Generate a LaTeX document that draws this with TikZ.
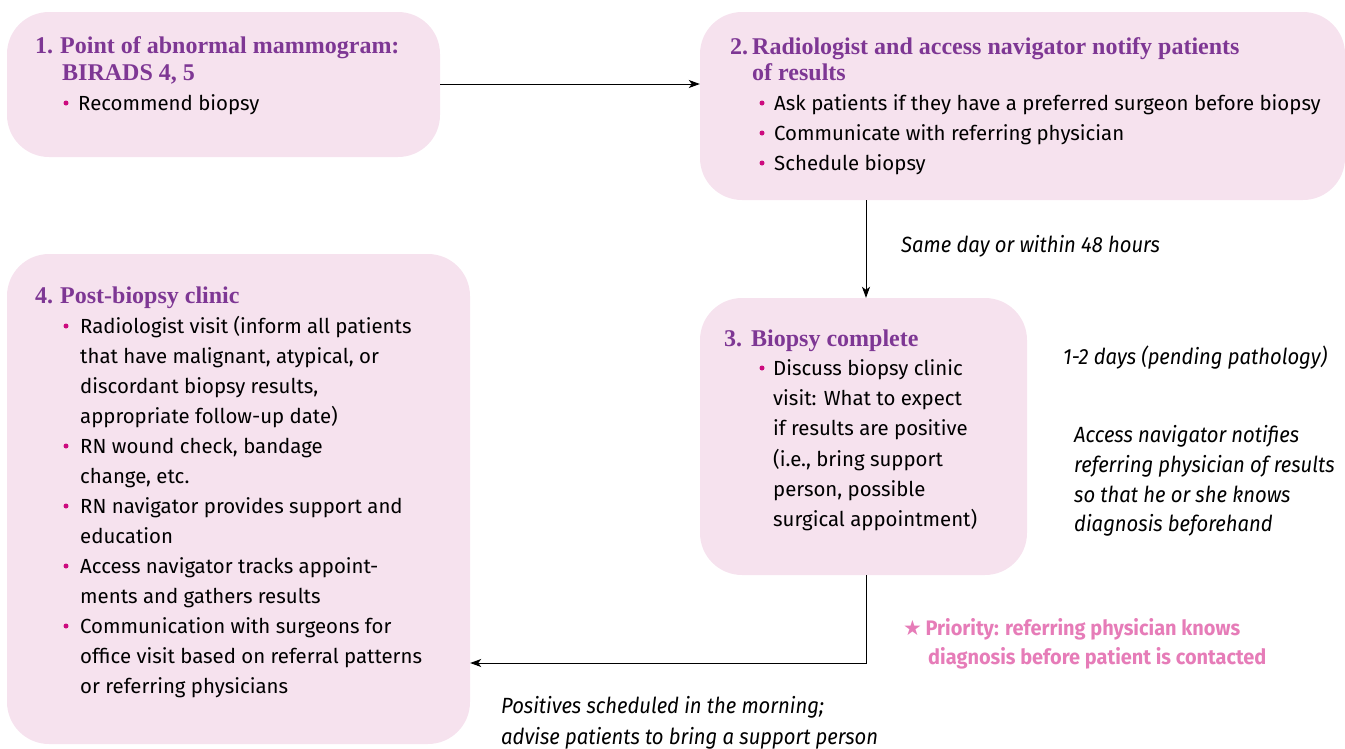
\documentclass[tikz,border=0pt]{standalone}
\usepackage{fontspec}
\setmainfont{Fira Sans}
\newfontfamily\bodyfont{Fira Sans}
\newfontfamily\notefamily{Fira Sans}[FakeStretch=0.92]
\newfontfamily\priofamily{Fira Sans}[FakeStretch=0.95]
\newfontfamily\titlefamily{Liberation Serif}
\newfontfamily\starfamily{DejaVu Sans}
\usetikzlibrary{arrows.meta}
\definecolor{boxpink}{HTML}{F6E2EE}
\definecolor{titlepurple}{HTML}{7E3794}
\definecolor{bulletpink}{HTML}{CC0A7E}
\definecolor{priopink}{HTML}{E67CB8}
\begin{document}
\begin{tikzpicture}[x=1pt,y=-1pt,
  box/.style={fill=boxpink, draw=none, rounded corners=42pt, inner sep=0},
  ttl/.style={anchor=base west, inner sep=0, text=titlepurple, font=\titlefamily\bfseries\fontsize{24}{30}\selectfont},
  txt/.style={anchor=base west, inner sep=0, font=\bodyfont\fontsize{20.4}{30}\selectfont},
  note/.style={anchor=base west, inner sep=0, font=\notefamily\itshape\fontsize{22}{30}\selectfont},
  prio/.style={anchor=base west, inner sep=0, text=priopink, font=\priofamily\bfseries\fontsize{21}{30}\selectfont},
  dot/.style={circle, fill=bulletpink, inner sep=0, minimum size=5pt},
  arr/.style={draw=black, line width=0.8pt, -{Stealth[length=11pt,width=8pt,inset=3pt]}}
]
\useasboundingbox (0,0) rectangle (1345,748);

% boxes
\node[box, minimum width=433pt, minimum height=145pt] (b1) at (223.5,84.5) {};
\node[box, minimum width=645pt, minimum height=188pt] (b2) at (1022.5,106) {};
\node[box, minimum width=327pt, minimum height=277pt] (b3) at (863.5,436.5) {};
\node[box, minimum width=463pt, minimum height=490pt] (b4) at (238.5,499) {};

% connectors
\draw[arr] (b1.east |- 0,84) -- (b2.west |- 0,84);
\draw[arr] (b2.south -| 866,0) -- (b3.north -| 866,0);
\coordinate (c1) at (866,663);
\draw[arr] (b3.south -| 866,0) -- (c1) -- (b4.east |- c1);

% box 1
\node[ttl] (t1n) at (35,53) {1.};
\node[ttl] (t1a) at (60,53) {Point of abnormal mammogram:};
\node[ttl] (t1b) at (62,80) {BIRADS 4, 5};
\node[dot] (d1a) at (66,103) {};
\node[txt] (l1a) at (78,110) {Recommend biopsy};

% box 2
\node[ttl] (t2n) at (730,54) {2.};
\node[ttl] (t2a) at (752,54) {Radiologist and access navigator notify patients};
\node[ttl] (t2b) at (752,80) {of results};
\node[dot] (d2a) at (762,103) {};
\node[txt] (l2a) at (774,110) {Ask patients if they have a preferred surgeon before biopsy};
\node[dot] (d2b) at (762,133) {};
\node[txt] (l2b) at (774,140) {Communicate with referring physician};
\node[dot] (d2c) at (762,163) {};
\node[txt] (l2c) at (774,170) {Schedule biopsy};

\node[note] (n1) at (901,252) {Same day or within 48 hours};

% box 3
\node[ttl] (t3n) at (724,346) {3.};
\node[ttl] (t3a) at (751,346) {Biopsy complete};
\node[dot] (d3a) at (762,368) {};
\node[txt] (l3a) at (773,375) {Discuss biopsy clinic};
\node[txt] (l3b) at (773,405) {visit: What to expect};
\node[txt] (l3c) at (773,435) {if results are positive};
\node[txt] (l3d) at (773,466) {(i.e., bring support};
\node[txt] (l3e) at (773,496) {person, possible};
\node[txt] (l3f) at (773,526) {surgical appointment)};

\node[note] (n2) at (1063,364) {1-2 days (pending pathology)};
\node[note] (n3a) at (1074,442) {Access navigator notifies};
\node[note] (n3b) at (1074,472) {referring physician of results};
\node[note] (n3c) at (1074,502) {so that he or she knows};
\node[note] (n3d) at (1074,531) {diagnosis beforehand};

\node[prio] (p1) at (903,635) {{\starfamily\fontsize{21}{30}\selectfont ★}\,Priority: referring physician knows};
\node[prio] (p2) at (928,664) {diagnosis before patient is contacted};

\node[note] (n4a) at (501,713) {Positives scheduled in the morning;};
\node[note] (n4b) at (501,744) {advise patients to bring a support person};

% box 4
\node[ttl] (t4n) at (35,303) {4.};
\node[ttl] (t4a) at (60,303) {Post-biopsy clinic};
\node[dot] (d4a) at (66,326) {};
\node[txt] (l4a) at (80,333) {Radiologist visit (inform all patients};
\node[txt] (l4b) at (80,363) {that have malignant, atypical, or};
\node[txt] (l4c) at (80,393) {discordant biopsy results,};
\node[txt] (l4d) at (80,423) {appropriate follow-up date)};
\node[dot] (d4b) at (66,446) {};
\node[txt] (l4e) at (80,453) {RN wound check, bandage};
\node[txt] (l4f) at (80,483) {change, etc.};
\node[dot] (d4c) at (66,506) {};
\node[txt] (l4g) at (80,513) {RN navigator provides support and};
\node[txt] (l4h) at (80,543) {education};
\node[dot] (d4d) at (66,566) {};
\node[txt] (l4i) at (80,573) {Access navigator tracks appoint-};
\node[txt] (l4j) at (80,603) {ments and gathers results};
\node[dot] (d4e) at (66,626) {};
\node[txt] (l4k) at (80,633) {Communication with surgeons for};
\node[txt] (l4l) at (80,663) {office visit based on referral patterns};
\node[txt] (l4m) at (80,693) {or referring physicians};
\end{tikzpicture}
\end{document}
